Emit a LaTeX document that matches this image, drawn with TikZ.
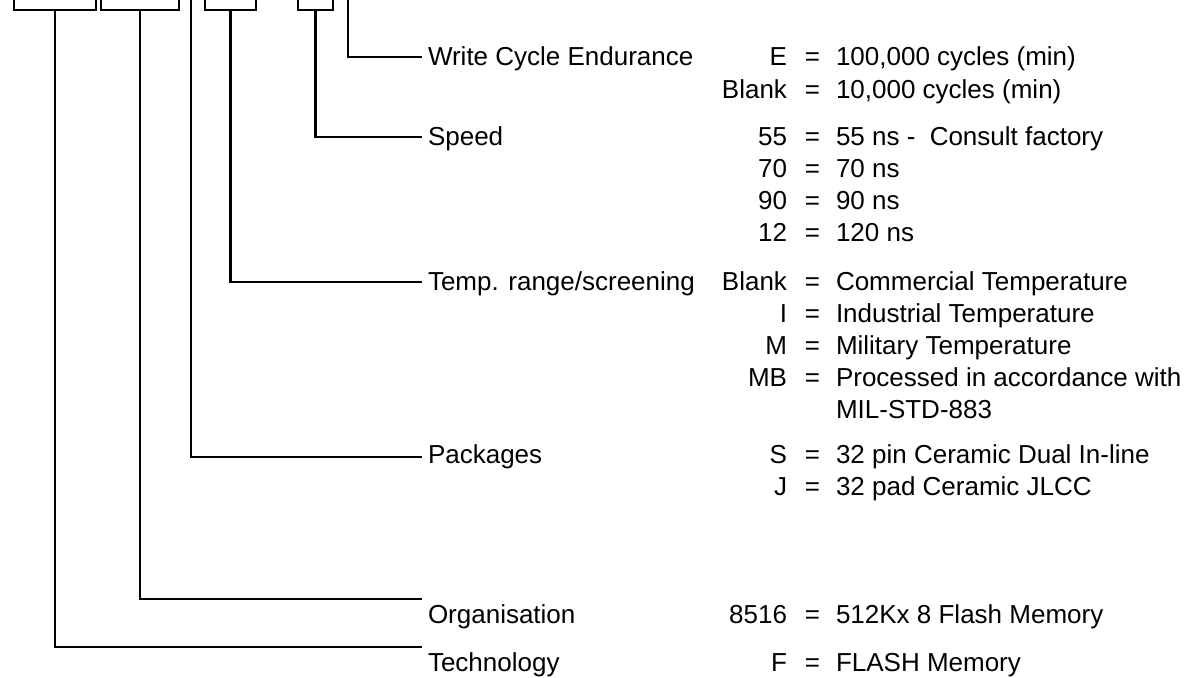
\documentclass[tikz,border=0pt]{standalone}
\usepackage{fontspec}
\setmainfont{Liberation Sans}
\begin{document}
\begin{tikzpicture}[x=0.5pt,y=-0.5pt,
  line width=1.15pt,
  every node/.style={inner sep=0pt,outer sep=0pt,font=\fontsize{13}{15}\selectfont},
  lbl/.style={anchor=base west},
  key/.style={anchor=base east},
  eqs/.style={anchor=base},
  val/.style={anchor=base west},
  partbox/.style={draw,line width=1.15pt,anchor=south,minimum height=20pt}]
\useasboundingbox (0,0) rectangle (1196,677);
\clip (0,0) rectangle (1196,677);
% part-number boxes (cut at the top)
\node[partbox,minimum width=41pt] (b1) at (55,10) {};
\node[partbox,minimum width=39pt] (b2) at (140,10) {};
\node[partbox,minimum width=25.5pt] (b3) at (230.5,10) {};
\node[partbox,minimum width=17.5pt] (b4) at (315.5,10) {};
\coordinate (t1) at (191,-4);
\coordinate (t2) at (348,-4);
% connector ends
\coordinate (cw) at (422,57);
\coordinate (cs) at (422,137);
\coordinate (ct) at (422,282);
\coordinate (cp) at (422,457);
\coordinate (co) at (422,599);
\coordinate (ctech) at (422,647);
\draw (t2) |- (cw);
\draw (b4.south) |- (cs);
\draw (b3.south) |- (ct);
\draw (t1) |- (cp);
\draw (b2.south) |- (co);
\draw (b1.south) |- (ctech);
% labels
\node[lbl] (lw) at (428,65) {Write Cycle Endurance};
\node[lbl] (ls) at (428,145) {Speed};
\node[lbl] (lt) at (428,290) {Temp. range/screening};
\node[lbl] (lp) at (428,463) {Packages};
\node[lbl] (lo) at (428,623) {Organisation};
\node[lbl] (ltech) at (428,671) {Technology};
% option table
\foreach \k/\v/\y [count=\i] in {
  E/{100,000 cycles (min)}/65,
  Blank/{10,000 cycles (min)}/98,
  55/{55 ns -\hspace{0.55em}Consult factory}/145,
  70/{70 ns}/177,
  90/{90 ns}/209,
  12/{120 ns}/241,
  Blank/{Commercial Temperature}/290,
  I/{Industrial Temperature}/322,
  M/{Military Temperature}/354,
  MB/{Processed in accordance with}/386,
  S/{32 pin Ceramic Dual In-line}/463,
  J/{32 pad Ceramic JLCC}/495,
  8516/{512Kx 8 Flash Memory}/623,
  F/{FLASH Memory}/671}{
  \node[key] (k\i) at (787,\y) {\k};
  \node[eqs] (e\i) at (812.5,\y) {=};
  \node[val] (v\i) at (836,\y) {\v};
}
\node[val] (vmil) at (836,418) {MIL-STD-883};
\end{tikzpicture}
\end{document}
